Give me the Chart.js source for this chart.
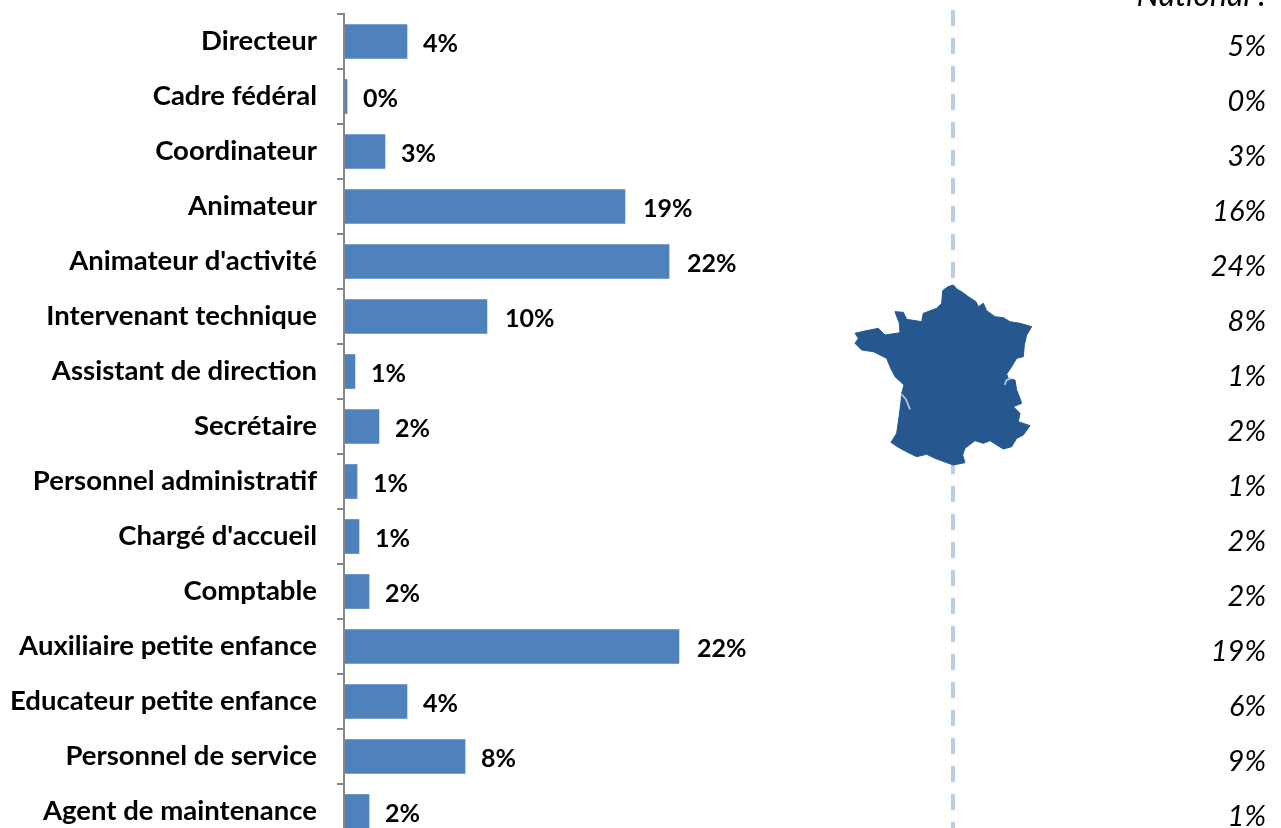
<!DOCTYPE html>
<html lang="fr">
<head>
  <meta charset="UTF-8">
  <title>Répartition par métier</title>
  <style>
    html, body { margin: 0; padding: 0; background: #fff; overflow: hidden; }
    .page { position: relative; width: 1281px; height: 828px; overflow: hidden; }
    canvas { position: absolute; left: 0; top: 0; }
    svg { position: absolute; left: 0; top: 0; }
  </style>
  <script src="https://cdn.jsdelivr.net/npm/chart.js"></script>
</head>
<body>
  <div class="page">
    <!-- dashed separator and map of France -->
    <svg width="1281" height="828">
      <defs><filter id="soft"><feGaussianBlur stdDeviation="0.6"/></filter></defs>
      <line x1="953" y1="10" x2="953" y2="828" stroke="#b9cde5" stroke-width="4" stroke-dasharray="16 12"/>
      <g transform="translate(840 270) scale(0.3333)" filter="url(#soft)">
        <path fill="#25588f" stroke="#25588f" stroke-width="3" stroke-linejoin="round" d="M308 62 Q322 48 340 45 L352 58 L365 65 L385 80 L408 95 L415 110 L430 100 L440 122 L465 140 L490 143 L510 155 L540 160 L575 170 L560 195 L553 225 L550 260 L530 265 L515 290 L500 312 L505 326 L525 330 L530 360 L540 385 L545 400 L520 410 L540 430 L535 455 L570 467 L550 495 L530 505 L515 530 L490 537 L470 525 L450 512 L430 520 L405 512 L375 535 L368 555 L375 578 L340 585 L320 578 L285 565 L260 553 L230 560 L205 548 L175 532 L153 517 L170 490 L178 435 L183 395 L185 370 L192 345 L165 320 L150 290 L140 265 L100 245 L65 240 L45 220 L55 205 L45 190 L75 183 L115 175 L135 195 L180 188 L178 160 L165 125 L190 127 L200 148 L245 155 L250 130 L290 115 L305 100 Z"/>
        <path fill="none" stroke="#b9cde5" stroke-width="5" d="M184 372 L198 388 L210 418 M494 345 L500 330 L512 326"/>
      </g>
    </svg>
    <canvas id="chart" width="1281" height="860"></canvas>
  </div>

  <script>
    const categories = [
      'Directeur', 'Cadre fédéral', 'Coordinateur', 'Animateur', "Animateur d'activité",
      'Intervenant technique', 'Assistant de direction', 'Secrétaire', 'Personnel administratif',
      "Chargé d'accueil", 'Comptable', 'Auxiliaire petite enfance', 'Educateur petite enfance',
      'Personnel de service', 'Agent de maintenance'
    ];
    const localValues = [4.2, 0.2, 2.73, 18.73, 21.67, 9.53, 0.73, 2.33, 0.87, 1, 1.67, 22.33, 4.2, 8.07, 1.67];
    const nationalValues = [5, 0, 3, 16, 24, 8, 1, 2, 1, 2, 2, 19, 6, 9, 1];
    const nationalTitle = 'National :';

    const FONT = 'Lato, Carlito, sans-serif';

    // value labels next to the bars, national column on the right
    const labelsPlugin = {
      id: 'labels',
      afterDatasetsDraw(chart) {
        const ctx = chart.ctx;
        const bars = chart.getDatasetMeta(0).data;
        ctx.save();
        ctx.textBaseline = 'middle';
        ctx.fillStyle = '#000';
        ctx.textAlign = 'left';
        ctx.font = 'bold 25px ' + FONT;
        bars.forEach((bar, i) => {
          const text = Math.round(localValues[i]) + '%';
          ctx.fillText(text, bar.x + (text.length > 2 ? 18 : 16), bar.y + 2);
        });
        ctx.textAlign = 'right';
        ctx.font = 'italic 29px ' + FONT;
        bars.forEach((bar, i) => {
          ctx.fillText(nationalValues[i] + '%', 1266, bar.y + 5);
        });
        ctx.font = 'italic 32px ' + FONT;
        ctx.fillText(nationalTitle, 1266, -4);
        ctx.restore();
      }
    };

    new Chart(document.getElementById('chart').getContext('2d'), {
      type: 'bar',
      data: {
        labels: categories,
        datasets: [{
          data: localValues,
          backgroundColor: '#4f81bd',
          barThickness: 34
        }]
      },
      options: {
        indexAxis: 'y',
        responsive: false,
        animation: false,
        layout: { padding: { top: 14, bottom: 21, right: 487, left: 0 } },
        plugins: { legend: { display: false }, tooltip: { enabled: false } },
        scales: {
          x: { display: false, min: 0, max: 30 },
          y: {
            afterFit(scale) {
              // fixed gutter, no extra room for the first and last label
              scale.width = 344;
              scale.paddingTop = 0;
              scale.paddingBottom = 0;
            },
            border: { color: '#868686', width: 2, z: 1 },
            grid: { color: '#868686', lineWidth: 2, drawOnChartArea: false, tickLength: 7 },
            ticks: {
              autoSkip: false,
              color: '#000',
              padding: 20,
              font: { family: FONT, weight: 'bold', size: 27.5 }
            }
          }
        }
      },
      plugins: [labelsPlugin]
    });
  </script>
</body>
</html>
